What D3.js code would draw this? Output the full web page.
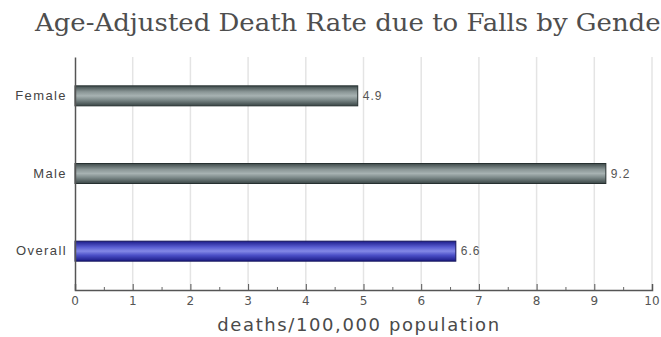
<!DOCTYPE html>
<html><head><meta charset="utf-8">
<script src="https://cdn.jsdelivr.net/npm/d3@7"></script>
<style>html,body{margin:0;padding:0;background:#fff;overflow:hidden}</style>
</head><body>
<svg id="chart" width="661" height="337"></svg>
<script>
const categories = ["Female", "Male", "Overall"];
const values = [4.9, 9.2, 6.6];
const valueLabels = ["4.9", "9.2", "6.6"];
const tickValues = [0,1,2,3,4,5,6,7,8,9,10];
const titleText = "Age-Adjusted Death Rate due to Falls by Gender";
const axisTitle = "deaths/100,000 population";

const svg = d3.select("#chart");
const defs = svg.append("defs");
function grad(id, stops){
  const g = defs.append("linearGradient").attr("id", id).attr("x1",0).attr("y1",0).attr("x2",0).attr("y2",1);
  stops.forEach(([o,c]) => g.append("stop").attr("offset", o).attr("stop-color", c));
}
grad("gGray", [[0,"#3e4a4a"],[0.3,"#8a9696"],[0.5,"#a7b2b2"],[0.7,"#7d8a8a"],[1,"#3a4646"]]);
grad("gBlue", [[0,"#1c1c8a"],[0.3,"#5a5ed2"],[0.5,"#8388e6"],[0.7,"#4c50c8"],[1,"#1a1a86"]]);

const x = d3.scaleLinear().domain([0,10]).range([75, 652]);
const y = d3.scaleBand().domain(categories).range([57, 290]);

// title
svg.append("text").attr("x", 35).attr("y", 31)
  .attr("font-family", "'DejaVu Serif', serif").attr("font-size", 25)
  .attr("textLength", 638).attr("lengthAdjust", "spacingAndGlyphs")
  .attr("fill", "#4e4e4e").text(titleText);

// gridlines
svg.append("g").selectAll("line").data(tickValues.slice(1)).join("line")
  .attr("x1", d => x(d)).attr("x2", d => x(d))
  .attr("y1", 57).attr("y2", 290)
  .attr("stroke", "#e4e4e4").attr("stroke-width", 1.5);

// bars
svg.append("g").selectAll("rect").data(categories).join("rect")
  .attr("x", x(0)).attr("y", d => y(d) + y.bandwidth()/2 - 10)
  .attr("width", (d,i) => x(values[i]) - x(0)).attr("height", 20)
  .attr("fill", d => d === "Overall" ? "url(#gBlue)" : "url(#gGray)")
  .attr("stroke", d => d === "Overall" ? "#15155a" : "#263030").attr("stroke-width", 1);

// value labels
svg.append("g").selectAll("text").data(categories).join("text")
  .attr("x", (d,i) => x(values[i]) + 5).attr("y", d => y(d) + y.bandwidth()/2 + 4)
  .attr("font-family", "'Liberation Sans', Arial, sans-serif").attr("font-size", 12)
  .attr("letter-spacing", 1)
  .attr("fill", "#555").text((d,i) => valueLabels[i]);

// y axis
const yAxis = svg.append("g").attr("transform", `translate(${x(0)},0)`)
  .call(d3.axisLeft(y).tickSize(0).tickPadding(8));
yAxis.select(".domain").attr("stroke", "#555").attr("stroke-width", 1.5);
yAxis.selectAll("text").attr("font-family", "'Liberation Sans', Arial, sans-serif").attr("font-size", 13)
  .attr("letter-spacing", 1.4).attr("fill", "#444");

// x axis
const xAxis = svg.append("g").attr("transform", `translate(0,290)`)
  .call(d3.axisTop(x).tickValues(tickValues).tickSize(6).tickFormat(""));
xAxis.select(".domain").attr("stroke", "#555").attr("stroke-width", 1.5);
xAxis.selectAll(".tick line").attr("stroke", "#555");
const minor = svg.append("g").attr("transform", `translate(0,290)`)
  .call(d3.axisTop(x).tickValues(d3.range(0.5, 10, 1)).tickSize(3).tickFormat(""));
minor.select(".domain").remove();
minor.selectAll(".tick line").attr("stroke", "#666");
svg.append("g").selectAll("text").data(tickValues).join("text")
  .attr("x", d => x(d)).attr("y", 305).attr("text-anchor", "middle")
  .attr("font-family", "'DejaVu Sans', Verdana, sans-serif").attr("font-size", 12)
  .attr("fill", "#555").text(d => d);

svg.append("text").attr("x", 359).attr("y", 331).attr("text-anchor", "middle")
  .attr("font-family", "'DejaVu Sans', Verdana, sans-serif").attr("font-size", 18)
  .attr("letter-spacing", 1.6)
  .attr("fill", "#4a4a4a").text(axisTitle);
</script>
</body></html>
